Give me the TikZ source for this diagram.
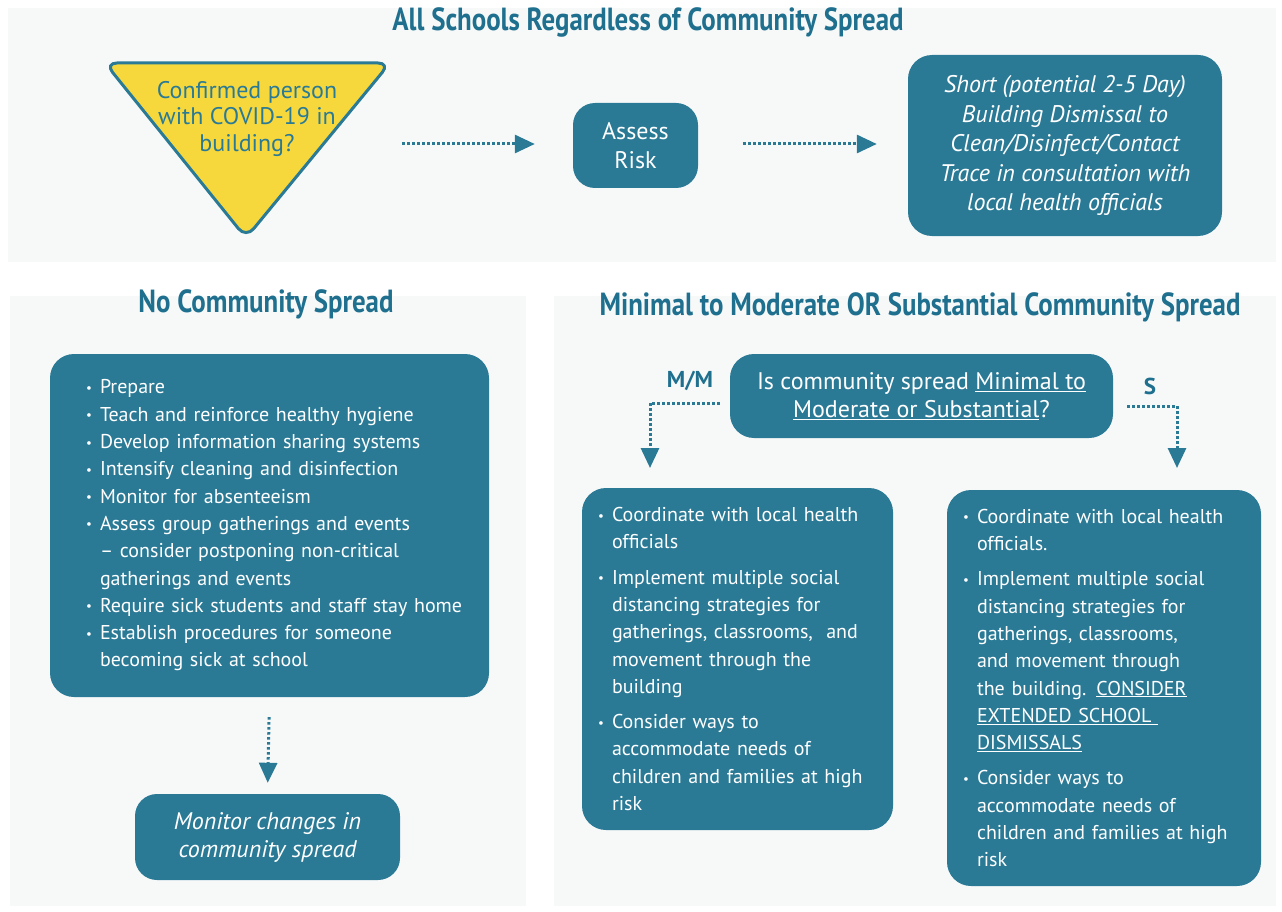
\documentclass[tikz,border=0pt]{standalone}
\usepackage{fontspec}
\usepackage{graphicx}
\setmainfont{PT Sans}
\newfontfamily\titlefont[FakeStretch=0.84]{PT Sans}
\usetikzlibrary{arrows.meta,calc}
\definecolor{teal1}{HTML}{2A7A96}
\definecolor{titleblue}{HTML}{1F6F8E}
\definecolor{yel}{HTML}{F7D83C}
\definecolor{panel}{HTML}{F7F9F9}
\newcommand\bul{\makebox[14pt][l]{\raisebox{1.5pt}{\scalebox{0.65}{•}}}}
\newcommand\ind{\hspace*{14pt}}
\tikzset{
  box/.style={fill=teal1, rounded corners=24pt, text=white, inner sep=0pt},
  listbox/.style={box, align=left, font=\fontsize{20}{27.3}\selectfont},
  arr/.style={teal1, line width=3pt, dash pattern=on 2.5pt off 2.5pt, -{Triangle[length=20pt,width=18pt]}},
  ttl/.style={text=titleblue, font=\titlefont\bfseries\fontsize{32}{34}\selectfont},
  lbl/.style={text=titleblue, font=\bfseries\fontsize{23}{26}\selectfont}
}
\begin{document}
\begin{tikzpicture}[x=1pt,y=-1pt]
\useasboundingbox (0,0) rectangle (1282,912);
\fill[white] (0,0) rectangle (1282,912);
% panels
\fill[panel] (8,8) rectangle (1276,262);
\fill[panel] (10,296) rectangle (526,906);
\fill[panel] (554,296) rectangle (1276,906);
% titles
\node[ttl] (t1) at (648,22) {All Schools Regardless of Community Spread};
\node[ttl] (t2) at (266,304) {No Community Spread};
\node[ttl] (t3) at (920,307) {Minimal to Moderate OR Substantial Community Spread};
% triangle
\draw[fill=yel, draw=teal1, line width=3pt, rounded corners=12pt] (105,63) -- (390,63) -- (246,238) -- cycle;
\node[text=teal1, align=center, font=\fontsize{24}{26.5}\selectfont] (tri) at (247,119) {Confirmed person\\with COVID-19 in\\building?};
% assess
\node[box, rounded corners=22pt, minimum width=125pt, minimum height=85pt, align=center, font=\fontsize{24}{29}\selectfont] (assess) at (635.5,145.5) {Assess\\Risk};
% short
\node[box, minimum width=314pt, minimum height=181pt, align=center, font=\itshape\fontsize{24}{29.5}\selectfont] (short) at (1065,145.5) {Short (potential 2-5 Day)\\Building Dismissal to\\Clean/Disinfect/Contact\\Trace in consultation with\\local health officials\rule[-3pt]{0pt}{1pt}};
\coordinate (a1s) at (402,144);
\draw[arr, shorten >=38pt] (a1s) -- (assess.west |- a1s);
\draw[arr, shorten <=45pt, shorten >=31pt] (assess.east |- a1s) -- (short.west |- a1s);
% no community spread list
\node[listbox, text width=367pt, inner xsep=36pt, minimum height=343pt] (nolist) at (269.5,525.5) {\bul Prepare\\
\bul Teach and reinforce healthy hygiene\\
\bul Develop information sharing systems\\
\bul Intensify cleaning and disinfection\\
\bul Monitor for absenteeism\\
\bul Assess group gatherings and events\\
\ind -- consider postponing non-critical\\
\ind gatherings and events\\
\mbox{\bul Require sick students and staff stay home}\\
\bul Establish procedures for someone\\
\ind becoming sick at school};
\node[box, rounded corners=22pt, minimum width=265pt, minimum height=86pt, align=center, font=\itshape\fontsize{24}{28}\selectfont] (monitor) at (267.5,837) {Monitor changes in\\community spread};
\draw[arr, shorten <=20pt, shorten >=11pt] (nolist.south) -- (monitor.north);
% question
\node[box, rounded corners=24pt, minimum width=383pt, minimum height=84pt, align=center, font=\fontsize{24}{28}\selectfont] (q) at (921.5,396) {Is community spread \underline{Minimal to}\\\underline{Moderate or Substantial}?};
\node[lbl] (mm) at (690,381) {M/M};
\node[lbl] (s) at (1150,386) {S};
% MM box
\node[listbox, text width=279pt, inner xsep=16pt, minimum height=342pt] (mmbox) at (737.5,659) {\bul Coordinate with local health\\
\ind officials\\[8pt]
\bul Implement multiple social\\
\ind distancing strategies for\\
\ind gatherings, classrooms,\ \ and\\
\ind movement through the\\
\ind building\\[8pt]
\bul Consider ways to\\
\ind accommodate needs of\\
\ind children and families at high\\
\ind risk};
% S box
\node[listbox, text width=282pt, inner xsep=16pt, minimum height=396pt] (sbox) at (1104,688) {\bul Coordinate with local health\\
\ind officials.\\[8pt]
\bul Implement multiple social\\
\ind distancing strategies for\\
\ind gatherings, classrooms,\\
\ind and movement through\\
\ind the building. \underline{CONSIDER}\\
\ind \underline{EXTENDED SCHOOL\ }\\
\ind \underline{DISMISSALS}\\[8pt]
\bul Consider ways to\\
\ind accommodate needs of\\
\ind children and families at high\\
\ind risk};
\coordinate (mmin) at (650,488);
\coordinate (sin) at (1177,490);
\draw[arr, shorten >=20pt] ($(q.west)+(-10,7)$) -| (mmin);
\draw[arr, shorten >=22pt] ($(q.east)+(14,10)$) -| (sin);
\end{tikzpicture}
\end{document}
